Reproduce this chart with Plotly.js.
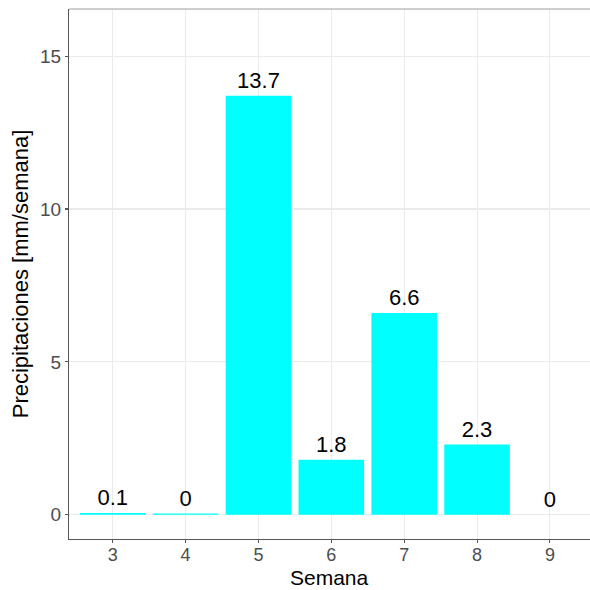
<!DOCTYPE html>
<html>
<head>
<meta charset="utf-8">
<script src="https://cdn.plot.ly/plotly-3.0.1.min.js"></script>
<style>html,body{margin:0;padding:0;background:#fff;}#chart{width:590px;height:590px;}</style>
</head>
<body>
<div id="chart"></div>
<script>
const semanas = [3, 4, 5, 6, 7, 8, 9];
const precipitaciones = [0.06, 0.04, 13.7, 1.8, 6.6, 2.3, 0];
const etiquetas = precipitaciones.map(v => String(Math.round(v * 10) / 10));
const yTicks = [0, 5, 10, 15];

const trace = {
  type: 'bar',
  x: semanas,
  y: precipitaciones,
  width: 0.9,
  marker: {color: '#00FFFF', line: {width: 0}},
  text: etiquetas,
  textposition: 'outside',
  cliponaxis: false,
  textfont: {family: 'Liberation Sans, Arial, sans-serif', size: 22, color: '#000000'},
  hoverinfo: 'none'
};

const layout = {
  width: 590, height: 590,
  margin: {l: 68.5, r: 0, t: 8.5, b: 51},
  paper_bgcolor: '#ffffff', plot_bgcolor: '#ffffff',
  font: {family: 'Liberation Sans, Arial, sans-serif'},
  showlegend: false,
  bargap: 0.1,
  xaxis: {
    range: [2.4, 9.55],
    tickvals: semanas,
    ticktext: semanas.map(String),
    showgrid: true, gridcolor: '#EBEBEB', gridwidth: 1.1,
    zeroline: false,
    showline: true, linecolor: '#555555', linewidth: 1.1,
    ticks: 'outside', ticklen: 3, tickcolor: '#555555', tickwidth: 1.1,
    ticklabelstandoff: -4,
    tickfont: {size: 18, color: '#4D4D4D'},
    title: {text: ''}
  },
  yaxis: {
    range: [-0.79, 16.54],
    tickvals: yTicks,
    ticktext: yTicks.map(String),
    showgrid: true, gridcolor: '#EBEBEB', gridwidth: 1.1,
    zeroline: false,
    showline: true, linecolor: '#555555', linewidth: 1.1,
    ticks: 'outside', ticklen: 3, tickcolor: '#555555', tickwidth: 1.1,
    tickfont: {size: 19, color: '#4D4D4D'},
    title: {text: 'Precipitaciones [mm/semana]', font: {size: 22, color: '#000000'}, standoff: 5}
  },
  annotations: [
    {text: 'Semana', xref: 'paper', yref: 'paper', x: 0.5, y: -0.0735,
     xanchor: 'center', yanchor: 'middle', showarrow: false, borderpad: 0,
     font: {size: 21, color: '#000000', family: 'Liberation Sans, Arial, sans-serif'}}
  ],
  shapes: [
    {type: 'line', xref: 'paper', yref: 'paper', x0: 0, x1: 1, y0: 1, y1: 1,
     line: {color: '#A0A0A0', width: 1.2}}
  ]
};

Plotly.newPlot('chart', [trace], layout, {displayModeBar: false, staticPlot: true});
</script>
</body>
</html>
